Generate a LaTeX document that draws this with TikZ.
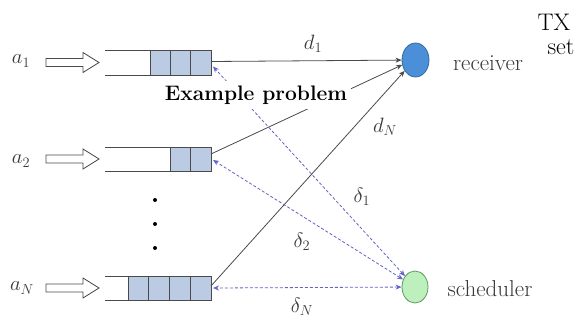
\documentclass[tikz,border=0pt]{standalone}
\usepackage{graphicx}
\usetikzlibrary{shapes.geometric,arrows.meta,calc}
\definecolor{lblgray}{HTML}{383838}
\definecolor{linegray}{HTML}{4A4A4A}
\definecolor{dashblue}{HTML}{6464C8}
\definecolor{cellblue}{HTML}{BCCBE4}
\definecolor{rxblue}{HTML}{4A8FD8}
\definecolor{rxedge}{HTML}{36689C}
\definecolor{scgreen}{HTML}{BDF0BD}
\definecolor{scedge}{HTML}{5E9A5E}
\tikzset{
  qline/.style={draw=linegray, line width=0.8pt},
  qcell/.style={draw=linegray, line width=0.8pt, fill=cellblue},
  inarrow/.style={draw=linegray, line width=0.8pt, fill=white},
  solidarrow/.style={draw=linegray, line width=0.8pt, -{Stealth[length=6pt,width=5pt]}},
  dasharrow/.style={draw=dashblue, line width=0.8pt, dash pattern=on 3pt off 2pt,
     {Stealth[length=6pt,width=5pt]}-{Stealth[length=6pt,width=5pt]}},
  lbl/.style={text=lblgray, font=\fontsize{23}{26}\selectfont, inner sep=0pt},
  ilbl/.style={text=lblgray, font=\fontsize{22}{25}\selectfont, inner sep=0pt},
  dotnode/.style={circle, fill=black, inner sep=0pt, minimum size=4pt}
}
\begin{document}
\begin{tikzpicture}[x=1pt,y=-1pt]
\useasboundingbox (0,0) rectangle (578,326);
\fill[white] (0,0) rectangle (578,326);

% queue right-end coordinates
\coordinate (q1) at (211,62.5);
\coordinate (q2) at (211,159);
\coordinate (qN) at (211,288);

% queue 1
\draw[qline] (105,50) -- (211,50) (105,75) -- (211,75);
\foreach \i in {1,2,3} \draw[qcell] (211-20.33*\i,50) rectangle ++(20.33,25);
% queue 2
\draw[qline] (105,147) -- (211,147) (105,171) -- (211,171);
\foreach \i in {1,2} \draw[qcell] (211-20.5*\i,147) rectangle ++(20.5,24);
% queue N
\draw[qline] (105,276) -- (211,276) (105,300) -- (211,300);
\foreach \i in {1,2,3,4} \draw[qcell] (211-20.75*\i,276) rectangle ++(20.75,24);

% hollow input arrows
\foreach \y in {62.5,159,288}
  \draw[inarrow,line join=miter] (46,\y-4) -- (83,\y-4) -- (83,\y-10) -- (99,\y) -- (83,\y+10) -- (83,\y+4) -- (46,\y+4) -- cycle;

% input labels
\node[ilbl] (a1) at (21,61) {$a_1$};
\node[ilbl] (a2) at (21,161) {$a_2$};
\node[ilbl] (aN) at (22,288) {$a_N$};

% dots
\node[dotnode] (dot1) at (155,200) {};
\node[dotnode] (dot2) at (155,224) {};
\node[dotnode] (dot3) at (155,248) {};

% receiver and scheduler
\node[ellipse, draw=rxedge, line width=0.8pt, fill=rxblue, minimum width=27pt, minimum height=34pt, inner sep=0pt] (rx) at (415.5,60) {};
\node[ellipse, draw=scedge, line width=0.8pt, fill=scgreen, minimum width=26pt, minimum height=32pt, inner sep=0pt] (sc) at (415,287) {};
\node[lbl] (rxl) at (488,63) {receiver};
\node[lbl] (scl) at (490,289) {scheduler};
\node[text=black, font=\fontsize{24}{27}\selectfont, inner sep=0pt] (tx) at (554,22) {TX};
\node[text=black, font=\fontsize{24}{27}\selectfont, inner sep=0pt] (setl) at (561,47) {set};

% connectors
\draw[solidarrow] ($(q1)+(0,-1)$) -- (rx);
\draw[solidarrow] ($(q2)+(0,-5)$) -- (rx.200);
\draw[solidarrow] ($(qN)+(0,-2)$) -- (rx.225);
\draw[dasharrow] (sc) -- ($(q1)+(2,4)$);
\draw[dasharrow] (sc) -- ($(q2)+(2,1)$);
\draw[dasharrow] (sc) -- ($(qN)+(2,0)$);

% connector labels
\node[ilbl] (d1) at (313,44) {$d_1$};
\node[ilbl] (dN) at (385,127) {$d_N$};
\node[ilbl] (del1) at (362,197) {$\delta_1$};
\node[ilbl] (del2) at (302,242) {$\delta_2$};
\node[ilbl] (delN) at (302,307) {$\delta_N$};

% title box
\node[fill=white, inner xsep=4pt, inner ysep=5pt, text=black, font=\fontsize{21}{24}\selectfont\bfseries] (ex) at (256,95) {Example problem};
\end{tikzpicture}
\end{document}
